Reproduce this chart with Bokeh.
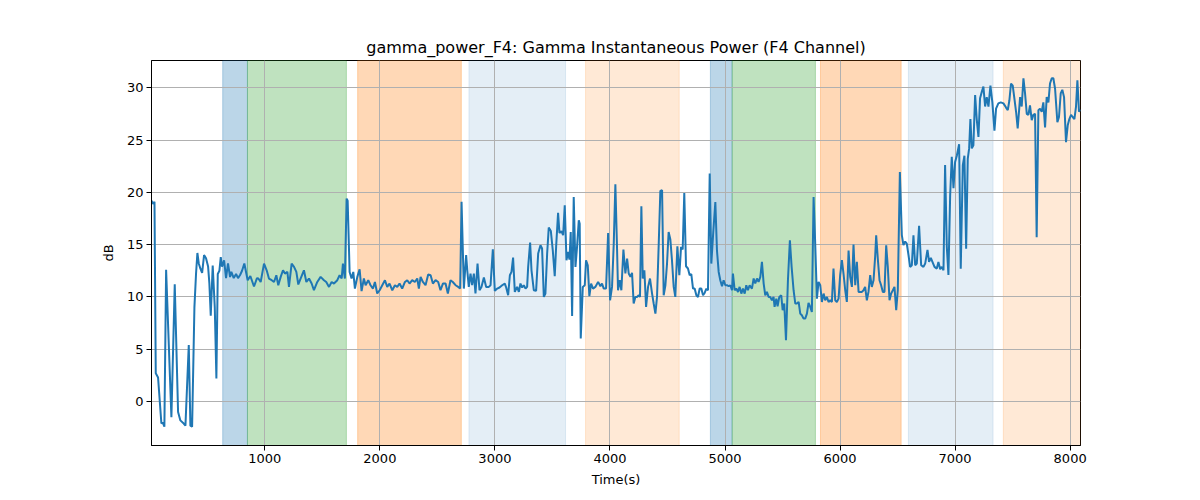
from bokeh.plotting import figure
from bokeh.models import Range1d, FixedTicker, BoxAnnotation, ColumnDataSource
from bokeh.embed import file_html
from bokeh.resources import INLINE

# ---- data ----
time_s = [
    15, 28, 41, 52, 72, 101, 113, 127, 142, 188, 217, 246, 266, 295, 310, 339, 353, 368, 388, 402,
    414, 426, 440, 455, 472, 489, 507, 518, 530, 547, 565, 579, 591, 605, 617, 628, 646, 663, 680, 698,
    709, 730, 750, 767, 785, 802, 822, 851, 874, 906, 932,
    944, 964, 993, 1016, 1036, 1060, 1080, 1100, 1117, 1138, 1158, 1175, 1196, 1210, 1233, 1254, 1274, 1291, 1311, 1340,
    1361, 1384, 1407, 1427, 1456, 1485, 1514, 1534, 1558, 1581, 1601, 1630, 1650, 1668, 1679, 1696, 1711, 1720, 1737, 1754,
    1769, 1783, 1804, 1824, 1841, 1861, 1876, 1899, 1919, 1940, 1957, 1977, 1998, 2021, 2044, 2064, 2084, 2108, 2131, 2151,
    2171, 2194, 2218, 2238, 2258, 2281, 2304, 2325, 2339, 2354, 2374, 2397, 2420, 2441, 2461, 2484, 2507, 2527, 2548, 2571,
    2591, 2614, 2634, 2658, 2681, 2698, 2710, 2730, 2750, 2760, 2773, 2788, 2802, 2817, 2831, 2849, 2866, 2883, 2904, 2924,
    2947, 2962, 2982, 2999, 3020, 3040, 3063, 3086, 3098, 3115, 3130, 3144, 3158, 3173, 3193, 3208, 3222, 3237, 3251, 3266,
    3280, 3289, 3306, 3318, 3338, 3358, 3376, 3396, 3410, 3425, 3439, 3454, 3468, 3486, 3503, 3520, 3532, 3549, 3561, 3578,
    3593, 3607, 3622, 3636, 3648, 3659, 3671, 3685, 3700, 3714, 3729, 3737, 3746, 3764, 3781, 3792, 3807, 3821, 3836, 3853,
    3873, 3897, 3917, 3931, 3946,
    3966, 3984, 4001, 4018, 4033, 4047, 4062, 4070, 4085, 4099, 4117, 4134, 4149, 4163, 4178, 4192, 4206, 4221, 4235, 4250,
    4261, 4273, 4285, 4299, 4314, 4331, 4348, 4366, 4380, 4395, 4409, 4424, 4438, 4453, 4467, 4482, 4496, 4510, 4525, 4539,
    4554, 4568, 4586, 4603, 4618, 4632, 4646, 4661, 4678, 4693, 4707, 4722, 4736, 4751, 4765, 4780, 4794, 4809, 4823, 4838,
    4852, 4867, 4881, 4898, 4916, 4930, 4945, 4959, 4974, 4988, 5003, 5017, 5032, 5046, 5061, 5069, 5084, 5098, 5113, 5127,
    5142, 5156, 5171, 5185, 5199, 5214,
    5234, 5249, 5263, 5278, 5292, 5307, 5321, 5336, 5350, 5364, 5379, 5393, 5408, 5422, 5431, 5446, 5457, 5472, 5489, 5501,
    5515, 5530, 5547, 5564, 5579, 5596, 5611, 5625, 5640, 5654, 5668, 5683, 5697, 5712, 5726, 5741, 5755, 5770, 5784, 5799,
    5813, 5828, 5842, 5857, 5871, 5886, 5900, 5915, 5929, 5943, 5958, 5972, 5987, 6001, 6016, 6030, 6045, 6059, 6074, 6088,
    6103, 6117, 6132, 6146, 6161, 6175, 6190, 6204, 6218, 6233, 6247, 6262, 6276, 6291, 6305, 6314, 6328, 6343, 6357, 6372,
    6386, 6401, 6415, 6430, 6444, 6459, 6473, 6488, 6502, 6520,
    6537, 6551, 6566, 6580, 6595, 6609, 6624, 6638, 6653, 6667, 6687, 6705, 6725, 6740, 6760, 6774, 6789, 6803, 6821, 6841,
    6855, 6870, 6884, 6899, 6913, 6928, 6942, 6957, 6971, 6986, 7000, 7015, 7035, 7049, 7067, 7081, 7096, 7110, 7122, 7133,
    7145, 7159, 7174, 7188, 7203, 7217, 7232, 7246, 7261, 7275, 7290, 7307, 7324, 7342, 7356, 7376, 7397, 7420, 7443, 7458,
    7472, 7486, 7501, 7515, 7530, 7544, 7565, 7579, 7594, 7608, 7623, 7637, 7651, 7666, 7680, 7695, 7709, 7724, 7738, 7753,
    7767, 7782, 7796, 7811, 7825, 7840, 7854, 7869, 7889, 7903, 7918, 7932, 7947, 7964, 7979, 7993, 8008, 8022, 8037, 8051,
    8063, 8077, 8090,
]

power_db = [
    19.2, 18.9, 19.1, 2.7, 2.3, -2.1, -2.0, -2.4, 12.6, -1.5, 11.2, -1.0, -1.8, -2.1, -2.3, 5.4, -2.3, -2.4, 9.0, 12.2,
    14.2, 13.2, 12.7, 12.3, 14.0, 13.7, 12.9, 11.3, 8.2, 13.0, 9.0, 2.2, 12.2, 12.5, 13.8, 12.9, 13.5, 11.8, 13.2, 11.9,
    12.4, 11.8, 12.2, 11.8, 12.1, 12.5, 13.2, 11.6, 12.0, 11.0, 11.8,
    11.76, 11.43, 13.19, 12.55, 11.76, 11.6, 11.43, 12.07, 11.12, 11.92, 12.55, 12.23, 12.39, 10.96, 13.19, 12.87, 12.39, 11.19, 11.76, 12.55,
    11.43, 11.76, 11.28, 10.64, 11.43, 11.92, 11.6, 11.43, 10.96, 11.43, 11.28, 11.6, 12.07, 11.76, 13.19, 11.76, 19.4, 19.2, 12.39, 11.76,
    12.39, 10.8, 11.92, 12.65, 10.55, 11.76, 11.12, 11.6, 11.12, 10.8, 11.43, 10.33, 10.64, 11.12, 11.6, 10.96, 11.28, 10.64, 11.12, 10.96,
    11.28, 10.8, 11.43, 11.6, 11.28, 11.6, 11.43, 11.76, 10.8, 11.92, 11.43, 11.12, 12.14, 12.07, 11.28, 11.6, 11.43, 10.64, 11.28, 11.28,
    10.33, 11.6, 11.43, 11.12, 10.96, 10.8, 19.09, 10.8, 14.0, 12.5, 10.96, 12.23, 11.12, 12.23, 10.33, 13.19, 10.64, 10.96, 11.86, 10.96,
    10.96, 11.12, 14.56, 10.58, 10.8, 10.9, 11.12, 11.28, 10.9, 10.16, 12.07, 12.39, 13.77, 10.48, 10.96, 10.48, 11.28, 10.9, 11.12, 10.8,
    10.96, 12.87, 15.2, 12.55, 10.64, 10.58, 14.15, 14.94, 14.63, 10.0, 10.33, 14.15, 16.63, 16.31, 14.46, 11.98, 14.78, 18.03, 16.12, 16.28,
    15.9, 18.77, 13.51, 14.3, 13.57, 16.21, 8.18, 19.56, 12.87, 14.78, 17.33, 17.0, 6.02, 10.96, 11.12, 13.51, 13.03, 10.07, 11.28, 10.8,
    10.96, 11.44, 11.02, 11.28, 10.8,
    10.8, 16.12, 9.68, 10.96, 15.1, 20.77, 14.46, 10.64, 11.6, 10.64, 14.53, 12.24, 13.67, 12.24, 11.92, 12.3, 9.37, 10.0, 10.0, 10.16,
    10.0, 18.67, 11.76, 12.55, 9.05, 10.96, 11.76, 10.32, 9.37, 8.41, 10.0, 15.1, 20.14, 20.2, 10.16, 11.12, 13.19, 16.21, 15.49, 13.51,
    10.96, 10.0, 14.85, 12.08, 14.78, 14.53, 19.94, 12.93, 12.72, 12.08, 12.17, 10.8, 10.8, 10.16, 10.0, 10.8, 10.8, 10.16, 10.38, 10.8,
    10.64, 21.8, 13.19, 16.21, 19.08, 14.46, 12.39, 11.6, 11.02, 11.6, 11.12, 11.12, 11.02, 11.12, 10.64, 12.24, 10.64, 10.8, 10.48, 10.96,
    10.32, 10.8, 10.32, 11.12, 10.64, 11.12,
    10.8, 11.76, 11.28, 11.76, 11.44, 11.92, 13.35, 11.28, 10.16, 10.48, 10.0, 10.0, 9.68, 10.0, 9.05, 9.84, 9.11, 10.0, 10.16, 8.73,
    9.37, 5.86, 11.6, 15.42, 12.87, 10.64, 9.37, 9.37, 9.52, 8.41, 8.25, 7.93, 7.93, 8.41, 9.43, 9.05, 8.57, 19.56, 15.1, 9.84,
    11.44, 11.12, 9.52, 10.32, 9.68, 10.0, 9.52, 9.68, 9.52, 12.72, 9.68, 9.52, 9.84, 12.08, 13.51, 12.24, 10.64, 9.52, 14.44, 11.92,
    10.96, 15.01, 11.12, 13.35, 10.48, 10.48, 10.48, 10.64, 10.96, 9.68, 10.48, 12.08, 10.96, 11.6, 13.83, 15.9, 13.67, 11.6, 11.12, 10.48,
    10.48, 14.94, 12.87, 9.68, 10.32, 10.64, 10.96, 8.73, 10.64, 21.95,
    15.9, 14.95, 15.3, 15.1, 13.99, 12.87, 13.03, 15.9, 13.03, 13.19, 16.8, 13.03, 12.87, 13.19, 14.5, 13.35, 13.73, 13.35, 12.87, 12.71,
    13.35, 12.65, 12.87, 12.55, 22.6, 14.79, 12.1, 19.7, 23.4, 20.4, 22.9, 23.5, 24.6, 12.7, 22.6, 23.5, 14.6, 23.2, 24.2, 27.0,
    24.2, 24.5, 29.3, 27.0, 25.3, 29.0, 29.6, 30.1, 28.2, 29.1, 28.2, 30.2, 28.6, 25.9, 28.0, 28.5, 28.6, 28.5, 28.1, 27.85,
    28.8, 30.4, 30.2, 29.0, 27.7, 26.1, 29.1, 28.2, 30.9, 29.45, 27.5, 27.4, 28.3, 26.9, 27.4, 27.5, 15.7, 27.85, 28.0, 27.7,
    28.6, 26.2, 29.1, 28.6, 30.4, 30.9, 30.9, 29.9, 26.7, 27.2, 29.45, 29.8, 29.1, 24.8, 26.4, 27.0, 27.4, 27.2, 27.0, 28.2,
    30.7, 27.7, 27.9,
]

span_start = [634, 849, 1807, 2774, 3788, 4873, 5062, 5830, 6594, 7419]
span_end = [849, 1709, 2708, 3614, 4602, 5062, 5786, 6531, 7330, 8090]
span_phase = ["A", "B", "C", "D", "E", "A", "B", "C", "D", "E"]

x_ticks = [1000, 2000, 3000, 4000, 5000, 6000, 7000, 8000]
y_ticks = [0, 5, 10, 15, 20, 25, 30]

title_text = "gamma_power_F4: Gamma Instantaneous Power (F4 Channel)"
x_label = "Time(s)"
y_label = "dB"

# ---- styles ----
PHASE_STYLE = {
    "A": ("#1f77b4", 0.30),
    "B": ("#2ca02c", 0.30),
    "C": ("#ff7f0e", 0.30),
    "D": ("#1f77b4", 0.12),
    "E": ("#ff7f0e", 0.17),
}
FONT = "DejaVu Sans"

p = figure(
    width=1200, height=500,
    output_backend="svg", toolbar_location=None,
    x_range=Range1d(min(time_s), max(time_s)),
    y_range=Range1d(-4.2, 32.6),
    min_border_left=151, min_border_right=120,
    min_border_top=60, min_border_bottom=55,
    title=title_text,
)
p.background_fill_color = "white"
p.border_fill_color = "white"
p.outline_line_color = "black"
p.outline_line_width = 1

p.title.align = "center"
p.title.text_font = FONT
p.title.text_font_size = "16px"
p.title.text_font_style = "normal"
p.title.text_color = "black"
p.title.standoff = 8

for s, e, ph in zip(span_start, span_end, span_phase):
    c, a = PHASE_STYLE[ph]
    p.add_layout(BoxAnnotation(left=s, right=e, fill_color=c, fill_alpha=a,
                               line_color=c, line_alpha=a, line_width=1, level="image"))

src = ColumnDataSource(dict(t=time_s, v=power_db))
p.line("t", "v", source=src, line_color="#1f77b4", line_width=2)

p.xaxis.ticker = FixedTicker(ticks=x_ticks)
p.yaxis.ticker = FixedTicker(ticks=y_ticks)
p.xaxis.axis_label = x_label
p.yaxis.axis_label = y_label

for ax in (p.xaxis, p.yaxis):
    ax.axis_line_color = "black"
    ax.major_tick_line_color = "black"
    ax.major_tick_out = 5
    ax.major_tick_in = 0
    ax.minor_tick_line_color = None
    ax.major_label_text_font = FONT
    ax.major_label_text_font_size = "13px"
    ax.major_label_text_color = "black"
    ax.axis_label_text_font = FONT
    ax.axis_label_text_font_size = "13px"
    ax.axis_label_text_font_style = "normal"
    ax.axis_label_text_color = "black"
    ax.major_label_standoff = 3
p.xaxis.axis_label_standoff = 6
p.yaxis.axis_label_standoff = 8

p.grid.grid_line_color = "#b0b0b0"
p.grid.grid_line_width = 1
p.grid.grid_line_alpha = 1

open("out.html", "w").write(file_html(p, INLINE))
